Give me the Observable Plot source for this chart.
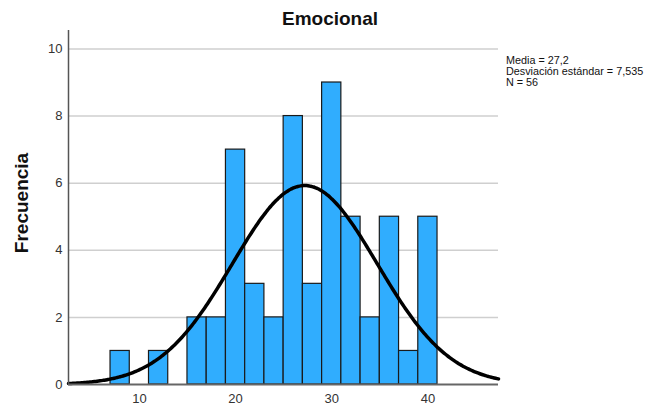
<!DOCTYPE html>
<html>
<head>
<meta charset="utf-8">
<script src="https://cdn.jsdelivr.net/npm/d3@7"></script>
<script src="https://cdn.jsdelivr.net/npm/@observablehq/plot@0.6"></script>
<style>
  html, body { margin: 0; padding: 0; background: #fff; }
  #chart svg { display: block; }
</style>
</head>
<body>
<div id="chart"></div>
<script>
// Histogram data (bin start, width 2)
const binStarts = [7, 9, 11, 13, 15, 17, 19, 21, 23, 25, 27, 29, 31, 33, 35, 37, 39];
const counts    = [1, 0, 1, 0, 2, 2, 7, 3, 2, 8, 3, 9, 5, 2, 5, 1, 5];
const binWidth = 2;
const xTicks = [10, 20, 30, 40];
const yTicks = [0, 2, 4, 6, 8, 10];
const title = "Emocional";
const yLabel = "Frecuencia";
const mean = 27.2;
const sd = 7.535;
const n = 56;
const legendLines = ["Media = 27,2", "Desviación estándar = 7,535", "N = 56"];

const bins = binStarts.map((s, i) => ({x1: s, x2: s + binWidth, y: counts[i]})).filter(d => d.y > 0);

const xDomain = [2.63, 47.34];
const yTop = 10.55;
// fitted normal curve from the stated mean, SD and N
const curve = d3.range(0, 301).map(i => {
  const x = xDomain[0] + (xDomain[1] - xDomain[0]) * i / 300;
  const z = (x - mean) / sd;
  return {x, y: n * binWidth * Math.exp(-0.5 * z * z) / (sd * Math.sqrt(2 * Math.PI))};
});

const font = "'Liberation Sans', Arial, sans-serif";
const chart = Plot.plot({
  width: 654,
  height: 409,
  marginLeft: 68,
  marginRight: 156,
  marginTop: 30,
  marginBottom: 25,
  style: {fontFamily: font, fontSize: "12px", color: "#222", background: "#fff"},
  x: {domain: xDomain, ticks: xTicks, tickSize: 0, tickPadding: 9, label: null},
  y: {domain: [0, yTop], ticks: yTicks, tickSize: 0, tickPadding: 6, label: null},
  marks: [
    Plot.ruleY(yTicks.filter(d => d > 0), {stroke: "#cfcfcf", strokeWidth: 1.5}),
    Plot.rectY(bins, {x1: "x1", x2: "x2", y: "y", fill: "#30adfe", stroke: "#1a1a1a", strokeWidth: 1.2}),
    Plot.line(curve, {x: "x", y: "y", stroke: "#000", strokeWidth: 3.5, curve: "basis"}),
    Plot.ruleY([0], {stroke: "#666", strokeWidth: 2}),
    Plot.ruleX([xDomain[0]], {y1: 0, y2: yTop, stroke: "#555", strokeWidth: 1.5}),
    Plot.axisX({ticks: xTicks, tickSize: 0, tickPadding: 9, fill: "#333", fontSize: 13}),
    Plot.axisY({ticks: yTicks, tickSize: 0, tickPadding: 6, fill: "#333", fontSize: 13})
  ]
});
document.getElementById("chart").appendChild(chart);

const svg = d3.select(chart);
svg.append("text")
  .attr("x", 330).attr("y", 25)
  .attr("text-anchor", "middle")
  .attr("font-family", font).attr("font-size", 19).attr("font-weight", "bold")
  .attr("fill", "#111")
  .text(title);
svg.append("text")
  .attr("transform", "translate(28,203) rotate(-90)")
  .attr("text-anchor", "middle")
  .attr("font-family", font).attr("font-size", 19).attr("font-weight", "bold")
  .attr("fill", "#111")
  .text(yLabel);
svg.append("g")
  .attr("text-anchor", "start")
  .selectAll("text")
  .data(legendLines)
  .join("text")
  .attr("x", 506)
  .attr("y", (d, i) => 64 + i * 10.8)
  .attr("text-anchor", "start")
  .attr("font-family", font).attr("font-size", 10.8)
  .attr("fill", "#111")
  .text(d => d);
</script>
</body>
</html>
